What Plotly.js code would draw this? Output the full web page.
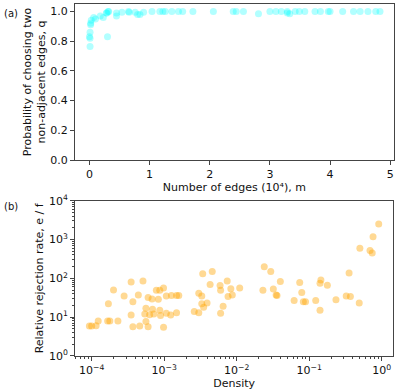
<!DOCTYPE html>
<html>
<head>
<meta charset="utf-8">
<script src="https://cdn.plot.ly/plotly-3.0.1.min.js"></script>
<style>
  html, body { margin: 0; padding: 0; background: #fff; }
  #plot { width: 399px; height: 390px; }
</style>
</head>
<body>
<div id="plot"></div>
<script>
  // (a) number of edges (10^4) vs probability q
  const edgesM = [
    0.01, 0.0, 0.01, 0.01, 0.02, 0.02, 0.03, 0.07, 0.10, 0.30, 0.18, 0.23, 0.28, 0.29, 0.31, 0.32,
    0.45, 0.45, 0.54, 0.65, 0.66, 0.76, 0.80, 0.84, 0.90, 1.04, 1.17, 1.22, 1.26, 1.37,
    1.48, 1.55, 1.72, 2.06, 2.39, 2.44, 2.56, 2.81, 3.00, 3.10, 3.19, 3.29, 3.29, 3.33,
    3.42, 3.49, 3.58, 3.75, 3.84, 3.97, 4.00, 4.21, 4.39, 4.50, 4.63, 4.76, 4.83
  ];
  const probQ = [
    0.764, 0.83, 0.82, 0.86, 0.91, 0.92, 0.94, 0.96, 0.95, 0.83, 0.97, 0.96, 0.99, 0.99, 1.0, 1.0,
    0.97, 0.99, 0.995, 1.0, 0.995, 0.995, 0.98, 0.98, 0.995, 1.0, 1.0, 1.0, 1.0, 1.0,
    1.0, 1.0, 1.0, 1.0, 1.0, 1.0, 1.0, 0.985, 1.0, 1.0, 1.0, 1.0, 0.99, 0.985,
    1.0, 1.0, 1.0, 1.0, 1.0, 1.0, 1.0, 1.0, 1.0, 1.0, 1.0, 1.0, 1.0
  ];

  // (b) density vs relative rejection rate
  const density = [
    9.3e-5, 1.0e-4, 1.15e-4, 1.23e-4, 1.66e-4, 1.78e-4, 2.3e-4, 1.7e-4, 2.0e-4, 2.8e-4,
    3.5e-4, 5.1e-4, 3.7e-4, 4.4e-4, 3.5e-4, 3.7e-4, 4.6e-4, 5.6e-4, 6.0e-4, 5.6e-4,
    5.4e-4, 6.3e-4, 6.9e-4, 7.2e-4, 6.0e-4, 6.8e-4, 7.8e-4, 8.3e-4, 8.7e-4, 9.8e-4,
    8.7e-4, 8.9e-4, 9.8e-4, 1.07e-3, 1.26e-3, 1.23e-3, 1.48e-3, 1.48e-3, 1.07e-3, 1.59e-3,
    3.0e-3, 3.3e-3, 3.4e-3, 4.6e-3, 4.3e-3, 5.9e-3, 6.0e-3, 7.4e-3, 8.3e-3, 8.7e-3,
    7.6e-3, 1.1e-2, 3.3e-3, 3.9e-3, 3.5e-3, 2.6e-3, 3.0e-3, 6.5e-3, 6.0e-3, 2.4e-2,
    2.95e-2, 2.3e-2, 3.2e-2, 3.5e-2, 3.6e-2, 4.0e-2, 7.4e-2, 7.9e-2, 6.2e-2, 8.3e-2,
    8.9e-2, 0.123, 0.145, 0.141, 0.178, 0.141, 0.234, 0.324, 0.37, 0.355,
    0.49, 0.50, 0.69, 0.74, 0.76, 0.91
  ];
  const rejection = [
    5.9, 5.9, 6.0, 8.0, 8.0, 8.0, 8.0, 22, 50, 35,
    81, 86, 25, 37, 11.4, 5.7, 5.9, 7.7, 5.7, 17,
    12, 11.5, 16, 12, 32, 29.5, 49, 29, 49, 56,
    15, 11, 5.5, 35, 36, 11.4, 36, 13, 12.6, 36,
    41, 35, 131, 150, 69, 65, 49, 86, 54, 37,
    34, 56, 22, 23, 18, 14, 13, 19, 12.6, 200,
    150, 49, 53, 37, 36, 83, 78, 43, 27, 25,
    25, 27, 91, 75, 66, 15, 28, 35, 34, 138,
    23, 600, 520, 450, 1180, 2500
  ];

  const qTicks = [0, 0.2, 0.4, 0.6, 0.8, 1.0];
  const mTicks = [0, 1, 2, 3, 4, 5];
  const densityTicks = [1e-4, 1e-3, 1e-2, 1e-1, 1];
  const densityLabels = ['10<sup>\u22124</sup>', '10<sup>\u22123</sup>', '10<sup>\u22122</sup>', '10<sup>\u22121</sup>', '10<sup>0</sup>'];
  const rateTicks = [1, 10, 100, 1000, 10000];
  const rateLabels = ['10<sup>0</sup>', '10<sup>1</sup>', '10<sup>2</sup>', '10<sup>3</sup>', '10<sup>4</sup>'];

  // minor ticks for the log axes (2..9 per decade)
  const minorTicks = (lo, hi) => {
    const out = [];
    for (let e = lo; e < hi; e++) {
      for (let d = 2; d <= 9; d++) out.push(d * Math.pow(10, e));
    }
    return out;
  };

  const font = { family: 'DejaVu Sans, sans-serif', size: 11, color: '#111' };

  const axisBase = {
    showgrid: false,
    zeroline: false,
    showline: true,
    mirror: true,
    linecolor: '#444',
    linewidth: 1,
    ticks: 'outside',
    ticklen: 4,
    tickcolor: '#444',
    automargin: false,
    tickfont: { family: font.family, size: 11, color: '#111' }
  };

  const trace1 = {
    x: edgesM,
    y: probQ,
    mode: 'markers',
    type: 'scatter',
    marker: { color: 'rgba(0,255,255,0.3)', size: 7, line: { width: 0 } },
    xaxis: 'x',
    yaxis: 'y',
    hoverinfo: 'skip'
  };

  const trace2 = {
    x: density,
    y: rejection,
    mode: 'markers',
    type: 'scatter',
    marker: { color: 'rgba(255,165,0,0.42)', size: 7, line: { width: 0 } },
    xaxis: 'x2',
    yaxis: 'y2',
    hoverinfo: 'skip'
  };

  const layout = {
    width: 399,
    height: 390,
    margin: { l: 0, r: 0, t: 0, b: 0 },
    paper_bgcolor: '#fff',
    plot_bgcolor: '#fff',
    showlegend: false,
    font: font,
    xaxis: Object.assign({}, axisBase, {
      domain: [0.188, 0.987],
      range: [-0.24, 5.06],
      tickvals: mTicks,
      anchor: 'y',
      title: { text: 'Number of edges (10\u2074), m', font: { size: 11 }, standoff: 1 }
    }),
    yaxis: Object.assign({}, axisBase, {
      domain: [0.5897, 0.9897],
      range: [0, 1.05],
      tickvals: qTicks,
      tickformat: '.1f',
      anchor: 'x',
      title: { text: 'Probability of choosing two<br>non-adjacent edges, q', font: { size: 11 }, standoff: 2 }
    }),
    xaxis2: Object.assign({}, axisBase, {
      domain: [0.188, 0.9857],
      type: 'log',
      range: [-4.23, 0.16],
      tickvals: densityTicks,
      ticktext: densityLabels,
      anchor: 'y2',
      minor: { ticks: 'outside', ticklen: 2, tickcolor: '#444', tickvals: minorTicks(-5, 1), showgrid: false },
      title: { text: 'Density', font: { size: 11 }, standoff: 1 }
    }),
    yaxis2: Object.assign({}, axisBase, {
      domain: [0.0872, 0.4854],
      type: 'log',
      range: [0, 4],
      tickvals: rateTicks,
      ticktext: rateLabels,
      anchor: 'x2',
      minor: { ticks: 'outside', ticklen: 2, tickcolor: '#444', tickvals: minorTicks(0, 4), showgrid: false },
      title: { text: 'Relative rejection rate, e / f', font: { size: 11 }, standoff: 3 }
    }),
    annotations: [
      { text: '(a)', xref: 'paper', yref: 'paper', x: 0.005, y: 0.985, xanchor: 'left', yanchor: 'top',
        showarrow: false, font: { size: 10, color: '#111' } },
      { text: '(b)', xref: 'paper', yref: 'paper', x: 0.005, y: 0.49, xanchor: 'left', yanchor: 'top',
        showarrow: false, font: { size: 10, color: '#111' } }
    ]
  };

  Plotly.newPlot('plot', [trace1, trace2], layout, { displayModeBar: false, staticPlot: true });
</script>
</body>
</html>
